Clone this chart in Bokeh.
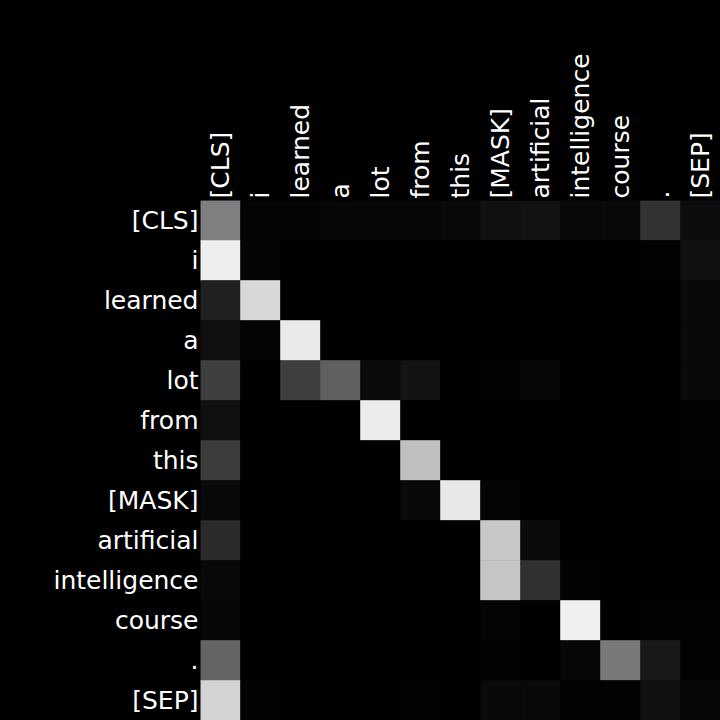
from bokeh.plotting import figure
from bokeh.models import ColumnDataSource, LinearColorMapper, FactorRange
from bokeh.transform import transform
from bokeh.embed import file_html
from bokeh.resources import INLINE

tokens = ["[CLS]", "i", "learned", "a", "lot", "from", "this", "[MASK]",
          "artificial", "intelligence", "course", ".", "[SEP]"]

# attention weights (rows = query token, columns = key token)
row_cls = [0.502, 0.020, 0.016, 0.027, 0.027, 0.027, 0.039, 0.063, 0.075, 0.039, 0.039, 0.200, 0.047]
row_i = [0.933, 0.020, 0.0, 0.0, 0.0, 0.0, 0.0, 0.0, 0.0, 0.0, 0.0, 0.008, 0.063]
row_learned = [0.125, 0.847, 0.0, 0.0, 0.0, 0.0, 0.0, 0.0, 0.0, 0.0, 0.0, 0.0, 0.039]
row_a = [0.063, 0.016, 0.914, 0.0, 0.0, 0.0, 0.0, 0.0, 0.0, 0.0, 0.0, 0.0, 0.039]
row_lot = [0.247, 0.0, 0.247, 0.376, 0.043, 0.075, 0.0, 0.008, 0.027, 0.0, 0.0, 0.0, 0.039]
row_from = [0.063, 0.0, 0.004, 0.0, 0.925, 0.0, 0.0, 0.0, 0.0, 0.0, 0.0, 0.0, 0.008]
row_this = [0.235, 0.0, 0.0, 0.0, 0.0, 0.753, 0.0, 0.0, 0.0, 0.0, 0.0, 0.0, 0.012]
row_mask = [0.039, 0.0, 0.0, 0.0, 0.0, 0.039, 0.910, 0.020, 0.0, 0.0, 0.0, 0.0, 0.0]
row_artificial = [0.165, 0.0, 0.0, 0.0, 0.0, 0.0, 0.0, 0.784, 0.043, 0.0, 0.0, 0.0, 0.004]
row_intelligence = [0.039, 0.0, 0.0, 0.0, 0.0, 0.0, 0.0, 0.773, 0.188, 0.012, 0.004, 0.004, 0.004]
row_course = [0.031, 0.0, 0.0, 0.0, 0.0, 0.0, 0.0, 0.020, 0.0, 0.941, 0.0, 0.012, 0.008]
row_period = [0.392, 0.0, 0.0, 0.0, 0.0, 0.0, 0.0, 0.008, 0.0, 0.031, 0.475, 0.098, 0.012]
row_sep = [0.827, 0.012, 0.0, 0.0, 0.0, 0.012, 0.0, 0.039, 0.039, 0.012, 0.012, 0.063, 0.031]

rows = [row_cls, row_i, row_learned, row_a, row_lot, row_from, row_this,
        row_mask, row_artificial, row_intelligence, row_course, row_period, row_sep]

xs, ys, vs = [], [], []
for qi, q in enumerate(tokens):
    for ki, k in enumerate(tokens):
        xs.append(k)
        ys.append(q)
        vs.append(rows[qi][ki])

source = ColumnDataSource(dict(x=xs, y=ys, v=vs))

greys = ["#%02x%02x%02x" % (i, i, i) for i in range(256)]
mapper = LinearColorMapper(palette=greys, low=0, high=1)

p = figure(width=720, height=720,
           x_range=FactorRange(*tokens),
           y_range=FactorRange(*reversed(tokens)),
           x_axis_location="above",
           output_backend="svg", toolbar_location=None,
           min_border_left=200, min_border_top=200,
           min_border_right=0, min_border_bottom=0)

p.rect(x="x", y="y", width=1, height=1, source=source,
       fill_color=transform("v", mapper),
       line_color=transform("v", mapper), line_width=0.6)

p.background_fill_color = "black"
p.border_fill_color = "black"
p.outline_line_color = None
p.grid.visible = False

for ax in (p.xaxis[0], p.yaxis[0]):
    ax.axis_line_color = None
    ax.major_tick_line_color = None
    ax.minor_tick_line_color = None
    ax.major_tick_in = 0
    ax.major_tick_out = 0
    ax.major_label_standoff = 2
    ax.major_label_text_font = "DejaVu Sans"
    ax.major_label_text_font_size = "25px"
    ax.major_label_text_color = "white"

p.xaxis[0].major_label_orientation = "vertical"

html = file_html(p, INLINE)
html = html.replace("<head>", "<head><style>html,body{margin:0;background:#000;}</style>", 1)
open("out.html", "w").write(html)
